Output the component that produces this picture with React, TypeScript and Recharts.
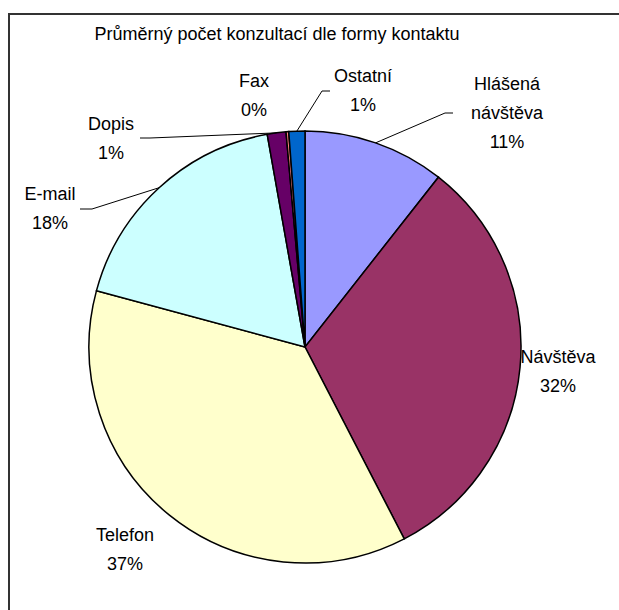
import React from 'react';
import { PieChart, Pie, Cell } from 'recharts';

// Average number of consultations by contact form (shares in %)
const categories = ['Hlášená návštěva', 'Návštěva', 'Telefon', 'E-mail', 'Dopis', 'Fax', 'Ostatní'];
const shares = [10.6, 31.8, 36.8, 18.0, 1.4, 0.2, 1.2];
const colors = ['#9999FF', '#993366', '#FFFFCC', '#CCFFFF', '#660066', '#FF8080', '#0066CC'];

const chartData = categories.map((name, i) => ({ name, value: shares[i] }));

// where each label sits, relative to the pie centre; leader = elbow + end of short horizontal tick
const labelPlacement: { dx: number; dy: number; leader?: [number, number][] }[] = [
  { dx: 202, dy: -234, leader: [[140, -234], [148, -234]] },
  { dx: 253, dy: 24 },
  { dx: -180, dy: 202 },
  { dx: -255, dy: -139, leader: [[-213, -138], [-225, -138]] },
  { dx: -194, dy: -209, leader: [[-155, -209], [-165, -209]] },
  { dx: -51, dy: -252 },
  { dx: 58, dy: -257, leader: [[17, -256], [25, -256]] },
];

const FONT = '"Liberation Sans", Arial, sans-serif';
const RAD = Math.PI / 180;

const renderLabel = (props: any) => {
  const { cx, cy, midAngle, outerRadius, index, percent } = props;
  const p = labelPlacement[index];
  const ax = cx + outerRadius * Math.cos(-midAngle * RAD);
  const ay = cy + outerRadius * Math.sin(-midAngle * RAD);
  const lines = [...categories[index].split(' '), `${Math.round(percent * 100)}%`];
  const lh = 29;
  const x = cx + p.dx;
  const y0 = cy + p.dy - ((lines.length - 1) * lh) / 2;
  const pts = p.leader
    ? [[ax, ay], ...p.leader.map(([lx, ly]) => [cx + lx, cy + ly])].map((q) => q.join(',')).join(' ')
    : null;
  return (
    <g key={`lbl-${index}`}>
      {pts && <polyline points={pts} fill="none" stroke="#000" strokeWidth={1} />}
      <text x={x} y={y0} textAnchor="middle" fontFamily={FONT} fontSize={18} fill="#000">
        {lines.map((l, i) => (
          <tspan key={i} x={x} y={y0 + i * lh} dominantBaseline="central">
            {l}
          </tspan>
        ))}
      </text>
    </g>
  );
};

export default function App() {
  return (
    <div style={{ position: 'relative', width: 619, height: 610, overflow: 'hidden', background: '#fff' }}>
      <style>{'body{margin:0}'}</style>
      {/* frame */}
      <div style={{ position: 'absolute', left: 8, top: 13, width: 611, height: 2, background: '#333' }} />
      <div style={{ position: 'absolute', left: 8, top: 13, width: 2, height: 597, background: '#333' }} />
      <div
        style={{
          position: 'absolute',
          left: 0,
          top: 24,
          width: 554,
          textAlign: 'center',
          fontFamily: FONT,
          fontSize: 18,
          color: '#000',
        }}
      >
        Průměrný počet konzultací dle formy kontaktu
      </div>
      <div style={{ position: 'absolute', left: 0, top: 0 }}>
        <PieChart width={619} height={610} margin={{ top: 0, right: 0, bottom: 0, left: 0 }}>
          <Pie
            data={chartData}
            dataKey="value"
            nameKey="name"
            cx={305}
            cy={347}
            outerRadius={216}
            startAngle={90}
            endAngle={-270}
            label={renderLabel}
            labelLine={false}
            isAnimationActive={false}
          >
            {chartData.map((d, i) => (
              <Cell key={d.name} fill={colors[i]} stroke="#000" strokeWidth={1.5} />
            ))}
          </Pie>
        </PieChart>
      </div>
    </div>
  );
}
